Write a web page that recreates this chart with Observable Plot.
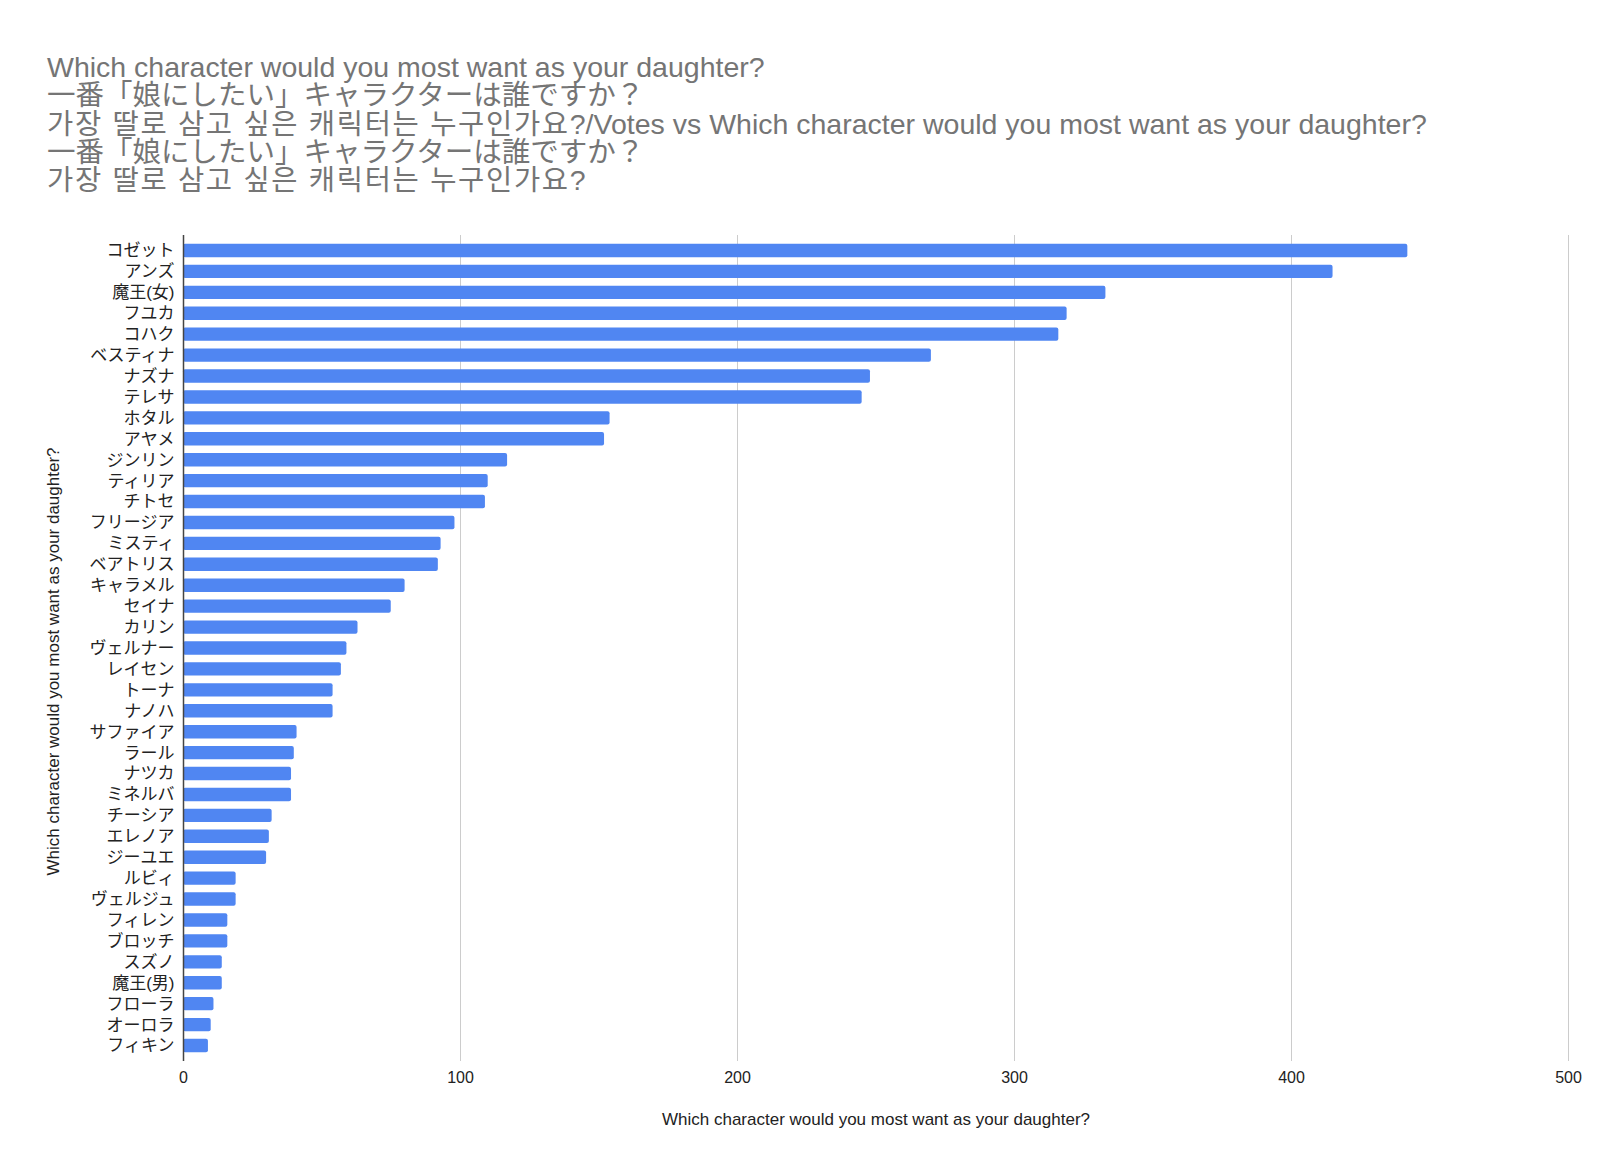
<!DOCTYPE html>
<html><head><meta charset="utf-8">
<script src="https://cdn.jsdelivr.net/npm/d3@7"></script>
<script src="https://cdn.jsdelivr.net/npm/@observablehq/plot@0.6"></script>
<style>
body{margin:0;background:#fff;}
#wrap{position:relative;width:1613px;height:1161px;overflow:hidden;}
#title{position:absolute;left:47px;top:53px;font-family:Arial,"Liberation Sans","Noto Sans CJK JP",sans-serif;font-size:28.5px;line-height:28.3px;color:#757575;white-space:pre;}
#title .ko{letter-spacing:1.7px;}
#chart{position:absolute;left:0;top:0;}
</style></head>
<body><div id="wrap"><div id="chart"></div><div id="title"></div></div>
<script>
const titleLines = [
  "Which character would you most want as your daughter?",
  "一番「娘にしたい」キャラクターは誰ですか？",
  "가장 딸로 삼고 싶은 캐릭터는 누구인가요?/Votes vs Which character would you most want as your daughter?",
  "一番「娘にしたい」キャラクターは誰ですか？",
  "가장 딸로 삼고 싶은 캐릭터는 누구인가요?"
];
const names = ["コゼット","アンズ","魔王(女)","フユカ","コハク","ベスティナ","ナズナ","テレサ","ホタル","アヤメ",
  "ジンリン","ティリア","チトセ","フリージア","ミスティ","ベアトリス","キャラメル","セイナ","カリン","ヴェルナー",
  "レイセン","トーナ","ナノハ","サファイア","ラール","ナツカ","ミネルバ","チーシア","エレノア","ジーユエ",
  "ルビィ","ヴェルジュ","フィレン","ブロッチ","スズノ","魔王(男)","フローラ","オーロラ","フィキン"];
const votes = [442,415,333,319,316,270,248,245,154,152,
  117,110,109,98,93,92,80,75,63,59,
  57,54,54,41,40,39,39,32,31,30,
  19,19,16,16,14,14,11,10,9];
const xDomain = [0, 500];
const gridValues = [100, 200, 300, 400, 500];
const axisTitle = "Which character would you most want as your daughter?";

const titleEl = document.getElementById("title");
titleLines.forEach(t => {
  const d = document.createElement("div");
  t.split(/([\uAC00-\uD7A3][\uAC00-\uD7A3 ]*[\uAC00-\uD7A3])/).forEach(part => {
    if (!part) return;
    const s = document.createElement("span");
    if (/[\uAC00-\uD7A3]/.test(part)) s.className = "ko";
    s.textContent = part;
    d.appendChild(s);
  });
  titleEl.appendChild(d);
});

const data = names.map((name, i) => ({name, votes: votes[i]}));
const font = 'Arial, "Liberation Sans", "Noto Sans CJK JP", sans-serif';
const plot = Plot.plot({
  width: 1613, height: 1161,
  marginLeft: 183, marginRight: 45, marginTop: 235, marginBottom: 100,
  style: {fontFamily: font, fontSize: "16px", color: "#222", background: "#fff"},
  x: {domain: xDomain, ticks: 5, tickSize: 0, tickPadding: 10, label: null},
  y: {domain: names, paddingInner: 0.36, paddingOuter: 0.42, tickSize: 0, tickPadding: 9, label: null},
  marks: [
    Plot.ruleX(gridValues, {stroke: "#cccccc", strokeWidth: 1}),
    Plot.barX(data, {x: "votes", y: "name", fill: "#5086f2", rx: 2}),
    Plot.ruleX([0], {stroke: "#444", strokeWidth: 1.5}),
    Plot.text([axisTitle], {text: d => d, frameAnchor: "bottom", dy: 63, fontSize: 17, fill: "#222"}),
    Plot.text([axisTitle], {text: d => d, frameAnchor: "left", textAnchor: "middle", dx: -129.5, dy: 13, rotate: -90, fontSize: 17, fill: "#222"})
  ]
});
plot.querySelectorAll('g[aria-label="y-axis tick label"] text, g[aria-label="y-axis"] text').forEach(t => t.setAttribute("font-size", "17"));
const yg = plot.querySelector('g[aria-label="y-axis tick label"]') || plot.querySelector('g[aria-label="y-axis"]');
if (yg) yg.setAttribute("font-size", "17");
document.getElementById("chart").appendChild(plot);
</script>
</body></html>
